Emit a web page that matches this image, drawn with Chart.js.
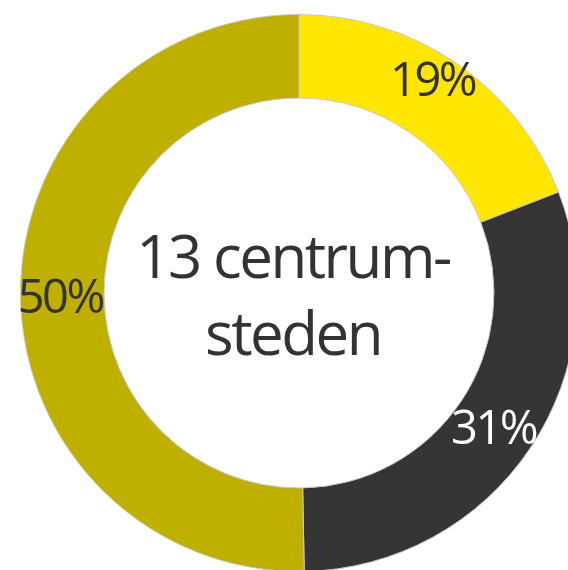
<!DOCTYPE html>
<html>
<head>
<meta charset="utf-8">
<script src="https://cdn.jsdelivr.net/npm/chart.js@4/dist/chart.umd.min.js"></script>
<style>
  html, body { margin: 0; padding: 0; background: #ffffff; overflow: hidden; width: 568px; height: 570px; }
  #wrap { position: absolute; left: 0; top: 0; width: 598px; height: 586px; }
</style>
</head>
<body>
<div id="wrap"><canvas id="c" width="598" height="586"></canvas></div>
<script>
const categories = ['Geel', 'Donker', 'Olijf'];
const values = [19.1, 30.6, 50.3];
const labelTexts = ['19%', '31%', '50%'];
const segmentColors = ['#FFE600', '#353535', '#BFB000'];
const labelColors = ['#333333', '#FFFFFF', '#333333'];
const centerLines = ['13 centrum-', 'steden'];

const labelPlugin = {
  id: 'sliceLabels',
  afterDatasetsDraw(chart, args, opts) {
    const ctx = chart.ctx;
    const meta = chart.getDatasetMeta(0);
    const fs = opts.fontSize;
    ctx.save();
    ctx.font = '400 ' + fs + 'px "Open Sans"';
    ctx.textAlign = 'center';
    ctx.textBaseline = 'alphabetic';
    try { ctx.letterSpacing = opts.letterSpacing; } catch (e) {}
    meta.data.forEach((arc, i) => {
      const p = arc.getProps(['x', 'y', 'startAngle', 'endAngle', 'innerRadius', 'outerRadius'], true);
      const mid = (p.startAngle + p.endAngle) / 2;
      const r = (p.innerRadius + p.outerRadius) / 2;
      const off = opts.offsets[i] || [0, 0];
      const cx = p.x + Math.cos(mid) * r + off[0];
      const cy = p.y + Math.sin(mid) * r + off[1];
      ctx.fillStyle = labelColors[i];
      ctx.fillText(labelTexts[i], cx, cy + fs * 0.357);
    });
    // centre text
    const p0 = meta.data[0].getProps(['x', 'y'], true);
    ctx.font = '400 60px "Open Sans"';
    try { ctx.letterSpacing = '-2.5px'; } catch (e) {}
    ctx.fillStyle = '#333333';
    ctx.fillText(centerLines[0], p0.x - 6, p0.y - 15);
    ctx.fillText(centerLines[1], p0.x - 6, p0.y + 62);
    ctx.restore();
  }
};

new Chart(document.getElementById('c'), {
  type: 'doughnut',
  data: {
    labels: categories,
    datasets: [{
      data: values,
      backgroundColor: segmentColors,
      borderColor: '#c8c8c8',
      borderWidth: 1,
      hoverOffset: 0
    }]
  },
  options: {
    responsive: false,
    animation: false,
    cutout: '70%',
    layout: { padding: 14 },
    plugins: {
      legend: { display: false },
      tooltip: { enabled: false },
      sliceLabels: {
        fontSize: 47,
        letterSpacing: '-2.5px',
        offsets: [[0, -18], [-2, 2], [-2, 1]]
      }
    }
  },
  plugins: [labelPlugin]
});
</script>
</body>
</html>
